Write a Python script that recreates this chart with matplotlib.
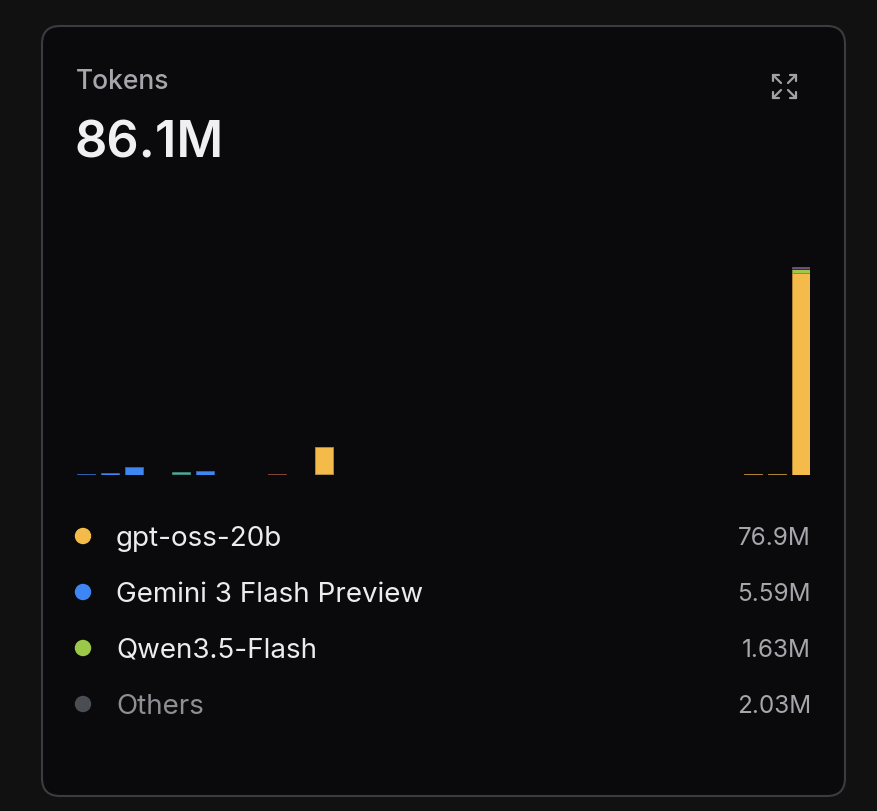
import numpy as np
import matplotlib.pyplot as plt
from matplotlib.patches import FancyBboxPatch, Circle

# Данные: токены по дням (млн), 31 день
days = np.arange(31)

gemini = np.zeros(31)
gemini[[0, 1, 2, 4, 5, 10]] = [0.29, 0.6, 2.75, 0.35, 1.3, 0.3]

gpt_oss = np.zeros(31)
gpt_oss[[10, 28, 29, 30]] = [9.1, 0.45, 0.25, 67.1]

qwen = np.zeros(31)
qwen[30] = 1.63

other_gray = np.zeros(31)
other_gray[[7, 9, 30]] = [0.15, 0.15, 0.08]
other_purple = np.zeros(31)
other_purple[30] = 0.6
other_teal = np.zeros(31)
other_teal[[3, 4]] = [0.15, 0.7]
other_rust = np.zeros(31)
other_rust[8] = 0.35

series = [gemini, gpt_oss, qwen, other_gray, other_purple, other_teal, other_rust]
colors = ['#3f86f5', '#f4bb4b', '#9cc84a', '#3a3a3e', '#a363b0', '#4fae94', '#b4624a']

legend_names = ['gpt-oss-20b', 'Gemini 3 Flash Preview', 'Qwen3.5-Flash', 'Others']
legend_values = ['76.9M', '5.59M', '1.63M', '2.03M']
legend_colors = ['#f4bb4b', '#3f86f5', '#9cc84a', '#4a4d52']

total_label = '86.1M'

W, H = 878, 812
fig = plt.figure(figsize=(W / 100, H / 100), dpi=100, facecolor='#111112')

# Фон карточки в пиксельных координатах
bg = fig.add_axes([0, 0, 1, 1])
bg.set_xlim(0, W)
bg.set_ylim(H, 0)
bg.axis('off')
card = FancyBboxPatch((42, 27), 803, 770, boxstyle='round,pad=0,rounding_size=18',
                      facecolor='#0a0a0c', edgecolor='#3c3c40', linewidth=1.5)
bg.add_patch(card)

bg.text(76, 89, 'Tokens', family='Inter', fontsize=19, fontweight='medium',
        color='#a6a6ad', va='baseline')
bg.text(75, 157, total_label, family='Inter', fontsize=36.5, fontweight='semibold',
        color='#f0f0f2', va='baseline')

# Иконка "развернуть"
icon_c = '#a0a0a6'
for cx, cy, dx, dy in [(773, 76, 1, 1), (796, 76, -1, 1), (773, 99, 1, -1), (796, 99, -1, -1)]:
    bg.plot([cx, cx + 8 * dx], [cy, cy + 8 * dy], color=icon_c, lw=1.6, solid_capstyle='round')
    bg.plot([cx, cx + 6 * dx], [cy, cy], color=icon_c, lw=1.6, solid_capstyle='round')
    bg.plot([cx, cx], [cy, cy + 6 * dy], color=icon_c, lw=1.6, solid_capstyle='round')

# Легенда
for i, (name, val, c) in enumerate(zip(legend_names, legend_values, legend_colors)):
    yc = 537 + 56 * i
    bg.add_patch(Circle((83, yc), 7.5, color=c))
    tc = '#8e8e95' if name == 'Others' else '#ececef'
    bg.text(116, yc + 9, name, family='Inter', fontsize=20, color=tc, va='baseline')
    bg.text(811, yc + 8, val, family='Inter', fontsize=17.5, color='#a6a6ad',
            va='baseline', ha='right')

# Столбцы (нулевые не рисуем)
ax_top, ax_bot = 180, 476
ax = fig.add_axes([77 / W, (H - ax_bot) / H, (810 - 77) / W, (ax_bot - ax_top) / H])
ax.set_facecolor('none')
bottom = np.zeros(31)
for vals, c in zip(series, colors):
    edge = tuple(np.array(plt.matplotlib.colors.to_rgb(c)) * 0.75)
    m = vals > 0
    ax.bar(days[m], vals[m], bottom=bottom[m], width=0.76, color=c, edgecolor=edge, linewidth=0.6)
    bottom = bottom + vals
ax.set_xlim(-0.38, 30.38)
ax.set_ylim(0, (ax_bot - ax_top) * 0.333)
ax.axis('off')

fig.savefig('out.png', dpi=100, facecolor=fig.get_facecolor())
